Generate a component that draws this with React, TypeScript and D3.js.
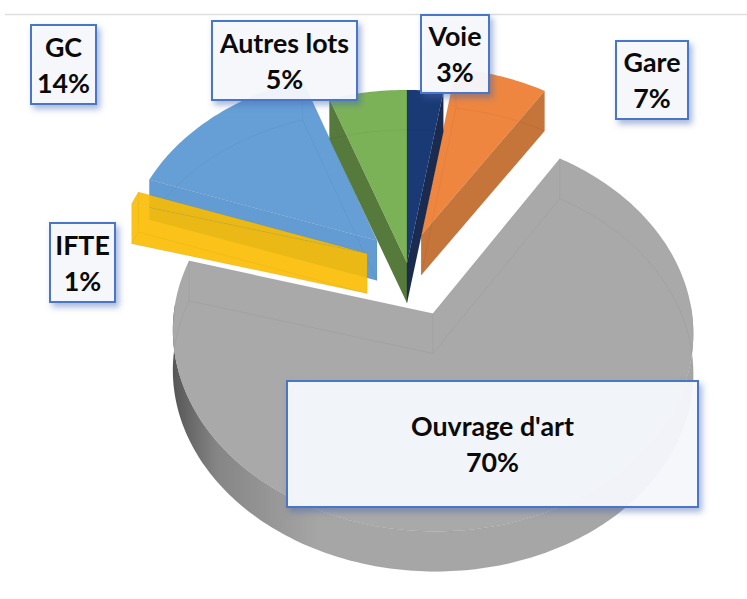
import React from "react";
import * as d3 from "d3";

const categories = ["Ouvrage d'art", "IFTE", "GC", "Autres lots", "Gare", "Voie"];
// Clockwise pie order, starting at twelve o'clock
const pieOrder = ["Voie", "Gare", "Ouvrage d'art", "IFTE", "GC", "Autres lots"];
const shares = [2.5, 6.5, 70.4, 1.1, 14.1, 5.4];

const explosion: Record<string, number> = { Voie: 0, Gare: 0.16, "Ouvrage d'art": 0.28, IFTE: 0.166, GC: 0.17, "Autres lots": 0 };
const topColors: Record<string, string> = { Voie: "#1A3A75", Gare: "#EE8640", "Ouvrage d'art": "#A9A9A9", IFTE: "#FBBC00", GC: "#659FD6", "Autres lots": "#7CB257" };
const wallColors: Record<string, string> = { Voie: "#1A2B4F", Gare: "#C5743A", "Ouvrage d'art": "#A5A5A5", IFTE: "#FBBC00", GC: "#629CD3", "Autres lots": "#56793C" };
const topOpacity: Record<string, number> = { Voie: 1, Gare: 1, "Ouvrage d'art": 1, IFTE: 0.9, GC: 1, "Autres lots": 1 };
const labelBoxes: Record<string, number[]> = {
  GC: [31, 25, 65, 79],
  "Autres lots": [212, 21, 145, 79],
  Voie: [421, 15, 68, 78],
  Gare: [616, 41, 72, 78],
  IFTE: [50, 223, 65, 79],
  "Ouvrage d'art": [287, 381, 411, 126],
};

const W = 747, H = 599;
const OX = 407, OY = 263, A = 253, B = 188.6, K = 0.09, T = 40;
type P = [number, number];
const project = (X: number, Y: number, down = 0): P => {
  const w = 1 + K * Y;
  return [OX + (A * X) / w, OY - (B * Y) / w + down];
};
const line = d3.line<P>();

const pie = d3.pie<number>().sort(null).value((d) => d).startAngle(0).endAngle(2 * Math.PI);
const arcs = pie(shares);

function Slice({ name, a0, a1 }: { name: string; a0: number; a1: number }) {
  const mid = (a0 + a1) / 2;
  const e = explosion[name];
  const cx = e * Math.sin(mid), cy = e * Math.cos(mid);
  const at = (t: number, down = 0) => project(cx + Math.sin(t), cy + Math.cos(t), down);
  const apex = (down = 0) => project(cx, cy, down);
  const n = Math.max(2, Math.ceil(((a1 - a0) * 180) / Math.PI));
  const thetas = d3.range(n + 1).map((i) => a0 + ((a1 - a0) * i) / n);
  const top = [apex(), ...thetas.map((t) => at(t))];
  const bottom = [apex(T), ...thetas.map((t) => at(t, T))];
  const wall = (t: number): P[] => [apex(), at(t), at(t, T), apex(T)];
  const front = thetas.filter((t) => Math.cos(t) < 0.06);
  const outer = [...front.map((t) => at(t)), ...front.slice().reverse().map((t) => at(t, T))];

  const isBig = name === "Ouvrage d'art";
  const showStart = !isBig && Math.sin(a0) < 0; // start wall faces the viewer on the left half
  const showEnd = !isBig && name !== "GC" && name !== "Autres lots" && Math.sin(a1) > 0 && Math.cos(a1) > 0;

  const fade = "rgba(0,0,0,0.045)";
  return (
    <g>
      {front.length > 1 && <path d={line(outer) + "Z"} fill={isBig ? "url(#wallGrad)" : wallColors[name]} />}
      {showStart && <path d={line(wall(a0)) + "Z"} fill={wallColors[name]} fillOpacity={topOpacity[name]} />}
      {showEnd && <path d={line(wall(a1)) + "Z"} fill={wallColors[name]} />}
      <path d={line(top) + "Z"} fill={topColors[name]} fillOpacity={topOpacity[name]} />
      <path d={line(top) + "Z"} fill="none" stroke={fade} strokeWidth={1} />
      <path d={line(bottom) + "Z"} fill="none" stroke={fade} strokeWidth={1} />
      <path d={line([apex(), apex(T)])!} stroke={fade} />
      <path d={line([at(a0), at(a0, T)])!} stroke={fade} />
      <path d={line([at(a1), at(a1, T)])!} stroke={fade} />
    </g>
  );
}

function Label({ name, share }: { name: string; share: number }) {
  const [x, y, w, h] = labelBoxes[name];
  const cx = x + w / 2, cy = y + h / 2;
  return (
    <g>
      <rect x={x} y={y} width={w} height={h} fill="#F8FAFD" fillOpacity={0.93} stroke="#4A76C6" strokeWidth={2} filter="url(#boxShadow)" />
      <text x={cx} y={cy - 8} textAnchor="middle" fontFamily="Lato, 'Open Sans', sans-serif" fontWeight={700} fontSize={26.8} fill="#0a0a0a">{name}</text>
      <text x={cx} y={cy + 28} textAnchor="middle" fontFamily="Lato, 'Open Sans', sans-serif" fontWeight={700} fontSize={26.8} fill="#0a0a0a">{Math.round(share)}%</text>
    </g>
  );
}

export default function App() {
  const drawOrder = ["Ouvrage d'art", "GC", "IFTE", "Autres lots", "Gare", "Voie"];
  return (
    <svg width={W} height={H} viewBox={`0 0 ${W} ${H}`} style={{ position: "absolute", left: 0, top: 0, background: "#fff" }}>
      <defs>
        <linearGradient id="wallGrad" gradientUnits="userSpaceOnUse" x1={172} y1={0} x2={320} y2={0}>
          <stop offset="0" stopColor="#555555" />
          <stop offset="0.3" stopColor="#858585" />
          <stop offset="1" stopColor="#A6A6A6" />
        </linearGradient>
        <filter id="boxShadow" x="-20%" y="-20%" width="150%" height="150%">
          <feDropShadow dx={3} dy={4} stdDeviation={3} floodColor="#3F66AE" floodOpacity={0.5} />
        </filter>
      </defs>
      <line x1={5} x2={W} y1={14.5} y2={14.5} stroke="#DEDEDE" strokeWidth={1.5} />
      {drawOrder.map((name) => {
        const a = arcs[pieOrder.indexOf(name)];
        return <Slice key={name} name={name} a0={a.startAngle} a1={a.endAngle} />;
      })}
      {categories.map((name) => (
        <Label key={name} name={name} share={shares[pieOrder.indexOf(name)]} />
      ))}
    </svg>
  );
}
